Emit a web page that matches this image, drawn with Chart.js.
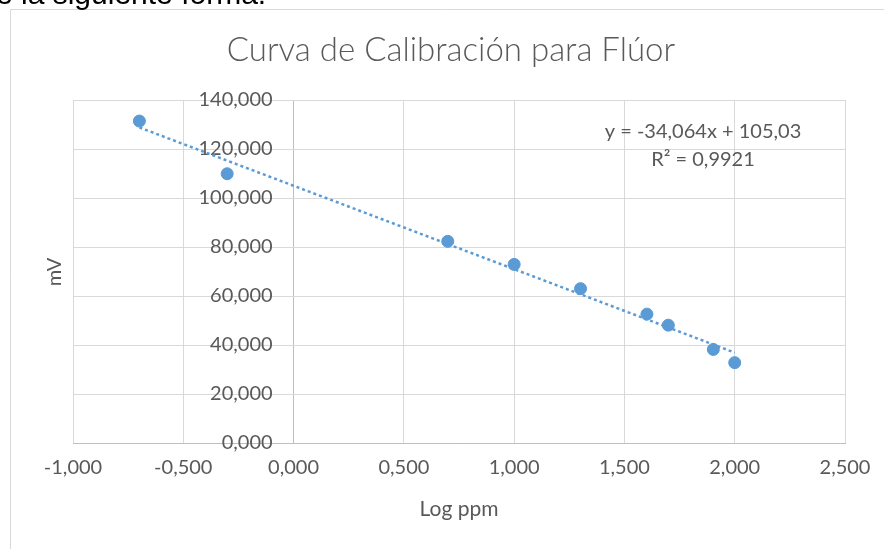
<!DOCTYPE html>
<html>
<head>
<meta charset="utf-8">
<script src="https://cdn.jsdelivr.net/npm/chart.js@4/dist/chart.umd.min.js"></script>
<style>
    body { margin: 0; background: #fff; overflow: hidden; }
    .doc-text {
        position: absolute; left: -4px; top: -21px;
        font-family: "Liberation Sans", Arial, sans-serif;
        font-size: 30px; line-height: 30px; color: #000;
        white-space: nowrap;
    }
    .wrap { position: absolute; left: 0; top: 0; width: 884px; height: 549px; }
</style>
</head>
<body>

<div class="wrap"><canvas id="myChart" width="884" height="549"></canvas></div>
<div class="doc-text">e la siguiente forma.</div>

<script>
'use strict'

// Log ppm vs mV
var logPpm = [-0.699, -0.301, 0.699, 1.0, 1.301, 1.602, 1.699, 1.903, 2.0];
var mV = [131.4, 109.9, 82.3, 72.9, 63.0, 52.6, 48.1, 38.2, 32.8];

// trendline ends
var trendX = [-0.699, 2.0];
var trendY = [128.8, 36.9];

var xTicks = [-1, -0.5, 0, 0.5, 1, 1.5, 2, 2.5];
var yTicks = [0, 20, 40, 60, 80, 100, 120, 140];

var titleText = 'Curva de Calibración para Flúor';
var eqText = ['y = -34,064x + 105,03', 'R² = 0,9921'];

var blue = '#5b9bd5';
var grey = '#595959';
var gridGrey = '#d9d9d9';
var axisGrey = '#bfbfbf';
var font = 'Lato, "Open Sans", sans-serif';

function fmt(v) {
    return v.toFixed(3).replace('.', ',');
}

var extras = {
    id: 'extras',
    beforeDraw: function(chart) {
        var c = chart.ctx;
        c.save();
        c.fillStyle = '#fff';
        c.fillRect(0, 0, chart.width, chart.height);
        c.strokeStyle = gridGrey;
        c.lineWidth = 1;
        c.beginPath();
        c.moveTo(10.5, chart.height);
        c.lineTo(10.5, 9.5);
        c.lineTo(chart.width, 9.5);
        c.stroke();
        c.restore();
    },
    afterDraw: function(chart) {
        var c = chart.ctx;
        c.save();
        c.fillStyle = grey;
        c.textAlign = 'center';
        c.textBaseline = 'middle';

        c.font = '300 33px ' + font;
        c.fillText(titleText, 451, 50);

        c.font = '21px ' + font;
        c.fillText('Log ppm', 459, 509);

        c.font = '20px ' + font;
        c.fillText(eqText[0], 703, 132);
        c.fillText(eqText[1], 703, 160);

        c.translate(55, 272);
        c.rotate(-Math.PI / 2);
        c.fillText('mV', 0, 0);
        c.restore();
    }
};

var points = logPpm.map(function(x, i) { return { x: x, y: mV[i] }; });
var trend = trendX.map(function(x, i) { return { x: x, y: trendY[i] }; });

var ctx = document.getElementById('myChart').getContext('2d');
var myChart = new Chart(ctx, {
    type: 'scatter',
    data: {
        datasets: [{
            label: 'mV',
            data: points,
            backgroundColor: blue,
            borderColor: blue,
            pointRadius: 6,
            order: 1
        }, {
            label: 'Lineal (mV)',
            type: 'line',
            data: trend,
            borderColor: blue,
            borderWidth: 2.5,
            borderDash: [3, 3],
            pointRadius: 0,
            fill: false,
            order: 2
        }]
    },
    options: {
        responsive: false,
        animation: false,
        layout: {
            padding: { left: 73, right: 39, top: 100, bottom: 0 }
        },
        plugins: {
            legend: { display: false },
            tooltip: { enabled: false }
        },
        scales: {
            x: {
                type: 'linear',
                position: 'bottom',
                min: -1,
                max: 2.5,
                afterFit: function(s) { s.height = 106; },
                afterBuildTicks: function(s) {
                    s.ticks = xTicks.map(function(v) { return { value: v }; });
                },
                grid: {
                    // the vertical line at x = 0 is the value axis
                    color: function(c) { return c.tick && c.tick.value === 0 ? axisGrey : gridGrey; },
                    drawTicks: false
                },
                border: { color: axisGrey },
                ticks: {
                    padding: 13,
                    color: grey,
                    font: { family: font, size: 20 },
                    maxRotation: 0,
                    callback: function(v) { return fmt(v); }
                }
            },
            y: {
                type: 'linear',
                // labels sit a little left of the x = 0 line, as in Excel
                position: { x: -0.095 },
                min: 0,
                max: 140,
                afterBuildTicks: function(s) {
                    s.ticks = yTicks.map(function(v) { return { value: v }; });
                },
                grid: { color: gridGrey, drawTicks: false },
                border: { display: false },
                ticks: {
                    color: grey,
                    font: { family: font, size: 20 },
                    callback: function(v) { return fmt(v); }
                }
            }
        }
    },
    plugins: [extras]
});
</script>
</body>
</html>
